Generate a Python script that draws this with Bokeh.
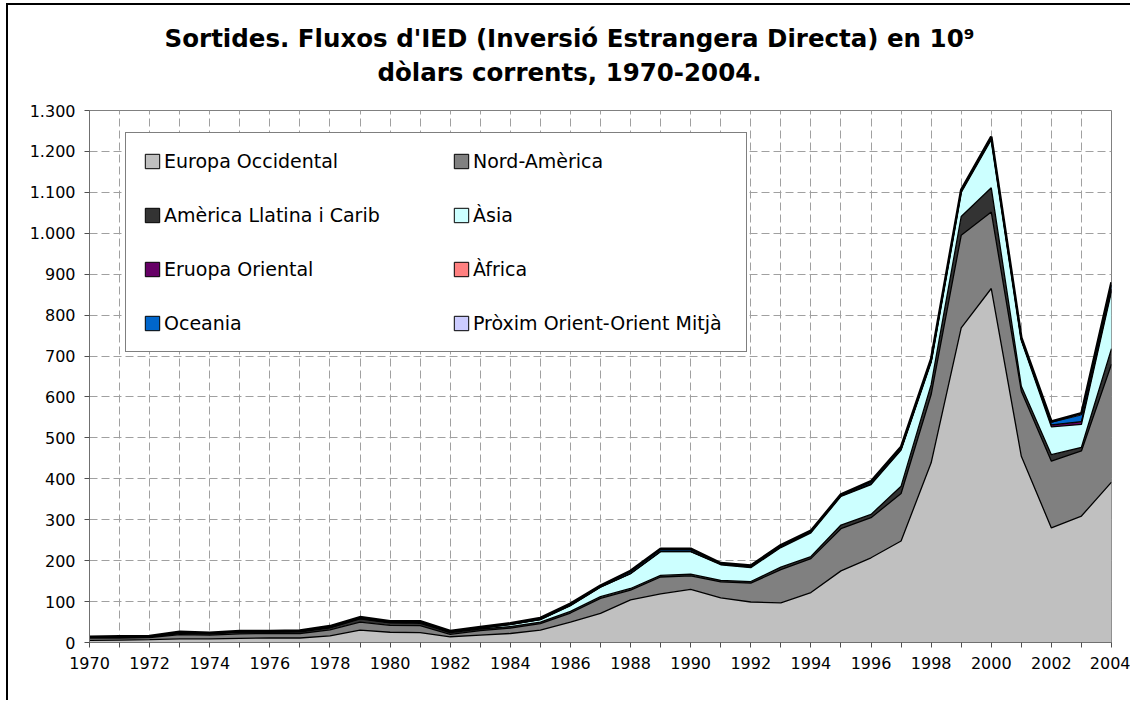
from bokeh.plotting import figure
from bokeh.models import ColumnDataSource, FixedTicker, Legend, LegendItem, Label, Range1d
from bokeh.embed import file_html
from bokeh.resources import INLINE

# ---------------- data ----------------
years = [1970, 1971, 1972, 1973, 1974, 1975, 1976, 1977, 1978, 1979,
         1980, 1981, 1982, 1983, 1984, 1985, 1986, 1987, 1988, 1989,
         1990, 1991, 1992, 1993, 1994, 1995, 1996, 1997, 1998, 1999,
         2000, 2001, 2002, 2003, 2004]

series_names = ["Europa Occidental", "Nord-Amèrica", "Amèrica Llatina i Carib", "Àsia",
                "Eruopa Oriental", "Àfrica", "Oceania", "Pròxim Orient-Orient Mitjà"]

europa_occidental = [5, 6, 7, 9, 9, 10, 11, 11, 16, 30,
                     25, 24, 14, 18, 22, 30, 50, 71, 104, 119,
                     130, 109, 99, 97, 122, 175, 207, 248, 439, 769,
                     865, 455, 280, 309, 392]
nord_america = [6, 5, 5, 10, 9, 11, 11, 11, 15, 20,
                17, 17, 6, 11, 13, 16, 22, 37, 24, 41,
                33, 39, 46, 81, 83, 103, 98, 116, 167, 226,
                187, 159, 163, 159, 288]
america_llatina = [2, 2, 2, 4, 4, 5, 4, 4, 5, 8,
                   6, 6, 4, 4, 4, 4, 4, 4, 4, 4,
                   4, 4, 4, 6, 5, 9, 8, 18, 24, 46,
                   59, 12, 16, 9, 38]
asia = [0, 0, 0, 0, 0, 0, 0, 1, 1, 1,
        1, 2, 1, 2, 5, 6, 14, 23, 36, 58,
        55, 38, 34, 48, 58, 70, 73, 88, 55, 59,
        118, 112, 68, 56, 140]
europa_oriental = [0, 0, 0, 0, 0, 0, 0, 0, 0, 0,
                   0, 0, 0, 0, 0, 0, 0, 0, 0, 0,
                   0, 1, 1, 1, 1, 1, 1, 1, 1, 1,
                   1, 1, 4, 6, 4]
africa = [0, 0, 0, 0, 0, 0, 0, 0, 0, 0,
          0, 0, 0, 0, 0, 0, 1, 1, 1, 1,
          1, 1, 1, 1, 1, 1, 1, 1, 1, 1,
          1, 1, 1, 1, 2]
oceania = [1, 1, 1, 1, 1, 1, 1, 1, 1, 1,
           2, 2, 1, 2, 2, 2, 2, 2, 3, 3,
           3, 2, 2, 3, 2, 2, 3, 3, 3, 2,
           3, 3, 6, 16, 10]
proxim_orient = [0, 1, 1, 2, 1, 1, 1, 1, 2, 2,
                 1, 1, 2, 1, 1, 2, 2, 1, 3, 3,
                 3, 0, 1, 1, 1, 1, 3, 3, 3, 2,
                 2, 2, 2, 4, 6]

colors = ["#C0C0C0", "#808080", "#333333", "#CCFFFF",
          "#660066", "#FF8080", "#0066CC", "#CCCCFF"]

x_tick_labels = ["1970", "", "1972", "", "1974", "", "1976", "", "1978", "",
                 "1980", "", "1982", "", "1984", "", "1986", "", "1988", "",
                 "1990", "", "1992", "", "1994", "", "1996", "", "1998", "",
                 "2000", "", "2002", "", "2004"]
y_ticks = [0, 100, 200, 300, 400, 500, 600, 700, 800, 900, 1000, 1100, 1200, 1300]
y_tick_labels = ["0", "100", "200", "300", "400", "500", "600", "700", "800", "900",
                 "1.000", "1.100", "1.200", "1.300"]

title_line1 = "Sortides. Fluxos d'IED (Inversió Estrangera Directa) en 10⁹"
title_line2 = "dòlars corrents, 1970-2004."

# ---------------- plot ----------------
keys = ["eocc", "nam", "all", "asi", "eor", "afr", "oce", "pom"]
source = ColumnDataSource(dict(year=years, eocc=europa_occidental, nam=nord_america,
                               all=america_llatina, asi=asia, eor=europa_oriental,
                               afr=africa, oce=oceania, pom=proxim_orient))

p = figure(width=1130, height=700, output_backend="svg", toolbar_location=None,
           x_range=Range1d(1970, 2004), y_range=Range1d(0, 1300),
           min_border_left=89, min_border_right=19, min_border_top=110, min_border_bottom=58)
p.title.visible = False
p.background_fill_color = "white"
p.border_fill_color = "white"
p.border_fill_alpha = 0.0
p.styles = {"box-shadow": "inset 6px 3px 0 0 white, inset 8px 5px 0 0 black",
            "background-color": "white"}
p.outline_line_color = "#808080"
p.outline_line_width = 1

p.varea_stack(stackers=keys, x="year", source=source, color=colors)
p.vline_stack(stackers=keys, x="year", source=source, line_color="black",
              line_width=[1.3, 1.3, 1.3, 1.3, 1.0, 1.0, 1.0, 2.6])

# axes
p.xaxis.ticker = FixedTicker(ticks=years)
p.xaxis.major_label_overrides = dict(zip(years, x_tick_labels))
p.yaxis.ticker = FixedTicker(ticks=y_ticks)
p.yaxis.major_label_overrides = dict(zip(y_ticks, y_tick_labels))
p.xgrid.ticker = FixedTicker(ticks=years)
p.ygrid.ticker = FixedTicker(ticks=y_ticks)
for ax in (p.xaxis, p.yaxis):
    ax.axis_line_color = "#707070"
    ax.major_tick_line_color = "#505050"
    ax.minor_tick_line_color = None
    ax.major_tick_out = 5
    ax.major_tick_in = 0
    ax.major_label_text_font = "DejaVu Sans"
    ax.major_label_text_font_size = "16px"
    ax.major_label_text_color = "black"
p.xaxis.major_label_standoff = 9
p.yaxis.major_label_standoff = 9
p.grid.grid_line_color = "#A0A0A0"
p.grid.grid_line_dash = "8 4"
p.grid.grid_line_width = 1

# legend swatches (one placeholder row, not visible in the plot)
swatches = []
for name, col in zip(series_names, colors):
    r = p.quad(left=[float("nan")], right=[float("nan")], top=[float("nan")],
               bottom=[float("nan")], fill_color=col, line_color="black", line_width=1)
    swatches.append(LegendItem(label=name, renderers=[r]))

legend = Legend(items=swatches, location=(36, 290), orientation="horizontal", ncols=2,
                glyph_width=18, glyph_height=18, label_height=18, label_width=256,
                label_standoff=3, spacing=32, padding=17, margin=0,
                border_line_color="black", border_line_width=1,
                background_fill_color="white", background_fill_alpha=1.0,
                label_text_font="DejaVu Sans", label_text_font_size="19px",
                label_text_color="black")
p.add_layout(legend)

# title: two centred lines placed in the panel above the frame
for txt, yy in ((title_line1, 72), (title_line2, 9)):
    p.add_layout(Label(x=480, y=yy, x_units="screen", y_units="screen", text=txt,
                       text_align="center", text_baseline="alphabetic",
                       text_font="DejaVu Sans", text_font_style="bold",
                       text_font_size="24.5px", text_color="black"), "above")

open("out.html", "w").write(file_html(p, INLINE))
